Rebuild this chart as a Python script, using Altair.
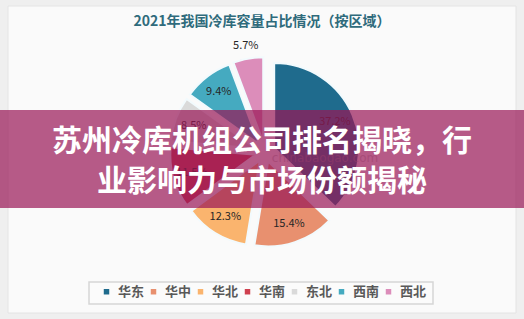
import altair as alt
import pandas as pd

regions = ["华东", "华中", "华北", "华南", "东北", "西南", "西北"]
shares = [37.2, 15.4, 12.3, 11.5, 8.5, 9.4, 5.7]
colors = ["#1F6B8D", "#E8906F", "#FAB46E", "#CF404F", "#DADADA", "#45AAC0", "#DC8DBA"]

title_text = "2021年我国冷库容量占比情况（按区域）"
banner_lines = ["苏州冷库机组公司排名揭晓，行", "业影响力与市场份额揭秘"]
watermark = "chinabaogao.com"

df = pd.DataFrame({"region": regions, "share": shares, "order": list(range(len(regions)))})

CX, CY, R, EXPLODE = 265, 152, 85, 10
FONT = "Noto Sans CJK SC"

base = alt.Chart(df).transform_window(
    cum="sum(share)", sort=[alt.SortField("order")]
).transform_calculate(
    t0="2*PI*(datum.cum - datum.share)/100",
    t1="2*PI*datum.cum/100",
).transform_calculate(
    mid="(datum.t0 + datum.t1)/2"
).transform_calculate(
    cx=f"{CX} + {EXPLODE}*sin(datum.mid)",
    cy=f"{CY} - {EXPLODE}*cos(datum.mid)",
    lr="datum.share < 6 ? 108 : 76",
).transform_calculate(
    lx=f"{CX} + datum.lr*sin(datum.mid)",
    ly=f"{CY} - datum.lr*cos(datum.mid)",
    label="format(datum.share, '.1f') + '%'",
)

one = alt.Chart(df).transform_filter("datum.order == 0")

panel = one.mark_rect(fill="#FAFAFA", stroke="#E4E4E4", strokeWidth=1).encode(
    x=alt.value(8), x2=alt.value(516), y=alt.value(6), y2=alt.value(313)
)

legend_box = one.mark_rect(fill="#FBFBFB", stroke="#D6D6D6", strokeWidth=1.5).encode(
    x=alt.value(89), x2=alt.value(433), y=alt.value(282), y2=alt.value(304)
)

arcs = base.mark_arc(radius=R, stroke="#F2FAFD", strokeWidth=2).encode(
    x=alt.X("cx:Q", scale=None, axis=None),
    y=alt.Y("cy:Q", scale=None, axis=None),
    theta=alt.Theta("t0:Q", scale=None, stack=False),
    theta2="t1:Q",
    color=alt.Color(
        "region:N",
        sort=regions,
        scale=alt.Scale(domain=regions, range=colors),
        legend=alt.Legend(
            title=None,
            orient="none",
            direction="horizontal",
            legendX=100,
            legendY=285,
            symbolType="square",
            symbolSize=30,
            symbolStrokeWidth=0,
            labelFont=FONT,
            labelFontSize=13,
            labelFontWeight="bold",
            labelColor="#595959",
            labelOffset=5,
            columnPadding=2,
            padding=0,
        ),
    ),
    order=alt.Order("order:Q"),
)

labels = base.mark_text(font=FONT, fontSize=11, color="#262626").encode(
    x=alt.X("lx:Q", scale=None, axis=None),
    y=alt.Y("ly:Q", scale=None, axis=None),
    text="label:N",
)

title = one.mark_text(font=FONT, fontSize=14, fontWeight="bold", color="#2F6B7C").encode(
    x=alt.value(262), y=alt.value(22), text=alt.value(title_text)
)

wm = one.mark_text(font="DejaVu Sans", fontSize=12, color="#9A9A9A", opacity=0.5).encode(
    x=alt.value(325), y=alt.value(158), text=alt.value(watermark)
)

banner = one.mark_rect(fill="#981655", opacity=0.7).encode(
    x=alt.value(0), x2=alt.value(524), y=alt.value(110), y2=alt.value(208)
)

banner_text1 = one.mark_text(font=FONT, fontSize=30, fontWeight="bold", color="white").encode(
    x=alt.value(262), y=alt.value(142), text=alt.value(banner_lines[0])
)
banner_text2 = one.mark_text(font=FONT, fontSize=30, fontWeight="bold", color="white").encode(
    x=alt.value(262), y=alt.value(182), text=alt.value(banner_lines[1])
)

chart = alt.layer(
    panel, legend_box, arcs, labels, wm, title, banner, banner_text1, banner_text2
).properties(
    width=524, height=319, autosize=alt.AutoSizeParams(type="none"), padding=0,
    background="#EFEFEF",
).configure_view(stroke=None)

chart.save("out.html", embed_options={"renderer": "svg", "actions": False})
